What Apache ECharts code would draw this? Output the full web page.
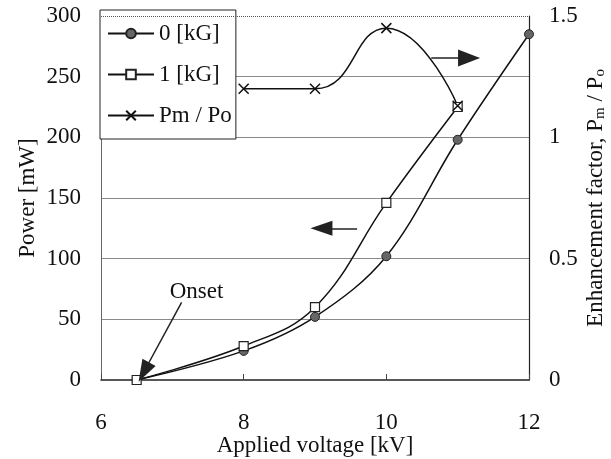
<!DOCTYPE html>
<html>
<head>
<meta charset="utf-8">
<script src="https://cdn.jsdelivr.net/npm/echarts@6/dist/echarts.min.js"></script>
<style>
  html, body { margin: 0; padding: 0; background: #fff; }
  #output { width: 611px; height: 459px; }
</style>
</head>
<body>
<div id="output"></div>
<script>
const chart = echarts.init(document.getElementById('output'));

// values
const voltage0 = [6.5, 8, 9, 10, 11, 12];
const power0 = [0, 24, 52, 102, 198, 285];
const voltage1 = [6.5, 8, 9, 10, 11];
const power1 = [0, 28, 60, 146, 225];
const ratioVoltage = [8, 9, 10, 11];
const ratio = [1.2, 1.2, 1.45, 1.13];
const powerTicks = [0, 50, 100, 150, 200, 250, 300];

const font = 'Liberation Serif';
const fs = 23;
const pairs = (xs, ys) => xs.map((x, i) => [x, ys[i]]);

const arrowLine = {
  silent: true,
  animation: false,
  symbol: ['none', 'triangle'],
  lineStyle: { color: '#222', width: 1.5, type: 'solid' },
  itemStyle: { color: '#444' },
  label: { show: false }
};

const option = {
  animation: false,
  textStyle: { fontFamily: font, color: '#111' },
  grid: { left: 101, right: 82, top: 16, bottom: 79, outerBoundsMode: 'none' },
  legend: {
    orient: 'vertical',
    left: 100,
    top: 10,
    padding: [12, 4, 12, 7],
    itemGap: 18,
    itemWidth: 46,
    itemHeight: 12,
    backgroundColor: '#fff',
    borderColor: '#222',
    borderWidth: 1,
    textStyle: { fontFamily: font, fontSize: fs, color: '#111' },
    data: ['0 [kG]', '1 [kG]', 'Pm / Po']
  },
  xAxis: {
    type: 'value',
    min: 6,
    max: 12,
    interval: 2,
    name: 'Applied voltage [kV]',
    nameLocation: 'middle',
    nameGap: 54,
    nameMoveOverlap: false,
    nameTextStyle: { fontFamily: font, fontSize: fs, color: '#111' },
    axisLine: { lineStyle: { color: '#222', width: 1.5 } },
    axisTick: { inside: true, length: 6, lineStyle: { color: '#444' } },
    axisLabel: { fontFamily: font, fontSize: fs, color: '#111', margin: 31 },
    splitLine: { show: false }
  },
  yAxis: [
    {
      type: 'value',
      min: 0,
      max: 300,
      interval: 50,
      name: 'Power [mW]',
      nameLocation: 'middle',
      nameGap: 62,
      nameRotate: 90,
      nameMoveOverlap: false,
      nameTextStyle: { fontFamily: font, fontSize: fs, color: '#111' },
      axisLine: { show: true, lineStyle: { color: '#666' } },
      axisTick: { show: false },
      axisLabel: { fontFamily: font, fontSize: fs, color: '#111', margin: 20 },
      splitLine: {
        lineStyle: {
          color: powerTicks.map((t, i) => (i === 0 || i === powerTicks.length - 1) ? 'rgba(0,0,0,0)' : '#8a8a8a'),
          width: 1
        }
      }
    },
    {
      type: 'value',
      min: 0,
      max: 1.5,
      interval: 0.5,
      position: 'right',
      name: 'Enhancement factor, P{s|m} / P{s|o}',
      nameLocation: 'middle',
      nameGap: 55,
      nameRotate: 90,
      nameMoveOverlap: false,
      nameTextStyle: {
        fontFamily: font,
        fontSize: fs,
        color: '#111',
        rich: { s: { fontFamily: font, fontSize: 15, color: '#111', verticalAlign: 'bottom', padding: [9, 0, 0, 0] } }
      },
      axisLine: { show: true, lineStyle: { color: '#222', width: 1.2 } },
      axisTick: { show: false },
      axisLabel: { fontFamily: font, fontSize: fs, color: '#111', margin: 20 },
      splitLine: { show: false }
    }
  ],
  series: [
    {
      name: '0 [kG]',
      type: 'line',
      data: pairs(voltage0, power0),
      smooth: 0.35,
      symbol: 'circle',
      symbolSize: 9,
      lineStyle: { color: '#111', width: 1.5 },
      itemStyle: { color: '#666', borderColor: '#222', borderWidth: 1 },
      z: 3,
      markLine: Object.assign({}, arrowLine, {
        symbolSize: [15, 22],
        data: [
          [{ coord: [7.13, 64] }, { coord: [6.6, 6.6] }],
          [{ coord: [9.59, 125] }, { coord: [9.09, 125] }]
        ]
      }),
      markPoint: {
        silent: true,
        symbol: 'circle',
        symbolSize: 0,
        label: { show: true, formatter: 'Onset', fontFamily: font, fontSize: fs, color: '#111' },
        data: [{ coord: [7.34, 72.5] }]
      }
    },
    {
      name: '1 [kG]',
      type: 'line',
      data: pairs(voltage1, power1),
      smooth: 0.4,
      symbol: 'rect',
      symbolSize: 9,
      lineStyle: { color: '#111', width: 1.5 },
      itemStyle: { color: '#fff', borderColor: '#222', borderWidth: 1.2 },
      z: 3,
      markLine: {
        silent: true,
        animation: false,
        symbol: 'none',
        lineStyle: { color: '#555', width: 1, type: 'dotted' },
        label: { show: false },
        data: [{ yAxis: 300 }]
      }
    },
    {
      name: 'Pm / Po',
      type: 'line',
      yAxisIndex: 1,
      data: pairs(ratioVoltage, ratio),
      smooth: 0.5,
      symbol: 'path://M0,0L10,10M10,0L0,10',
      symbolSize: 10,
      lineStyle: { color: '#111', width: 1.5 },
      itemStyle: { color: 'rgba(0,0,0,0)', borderColor: '#111', borderWidth: 1.5 },
      z: 3,
      markLine: Object.assign({}, arrowLine, {
        symbolSize: [17, 22],
        data: [
          [{ coord: [10.63, 1.327] }, { coord: [11.16, 1.327] }]
        ]
      })
    }
  ]
};

chart.setOption(option);
</script>
</body>
</html>
